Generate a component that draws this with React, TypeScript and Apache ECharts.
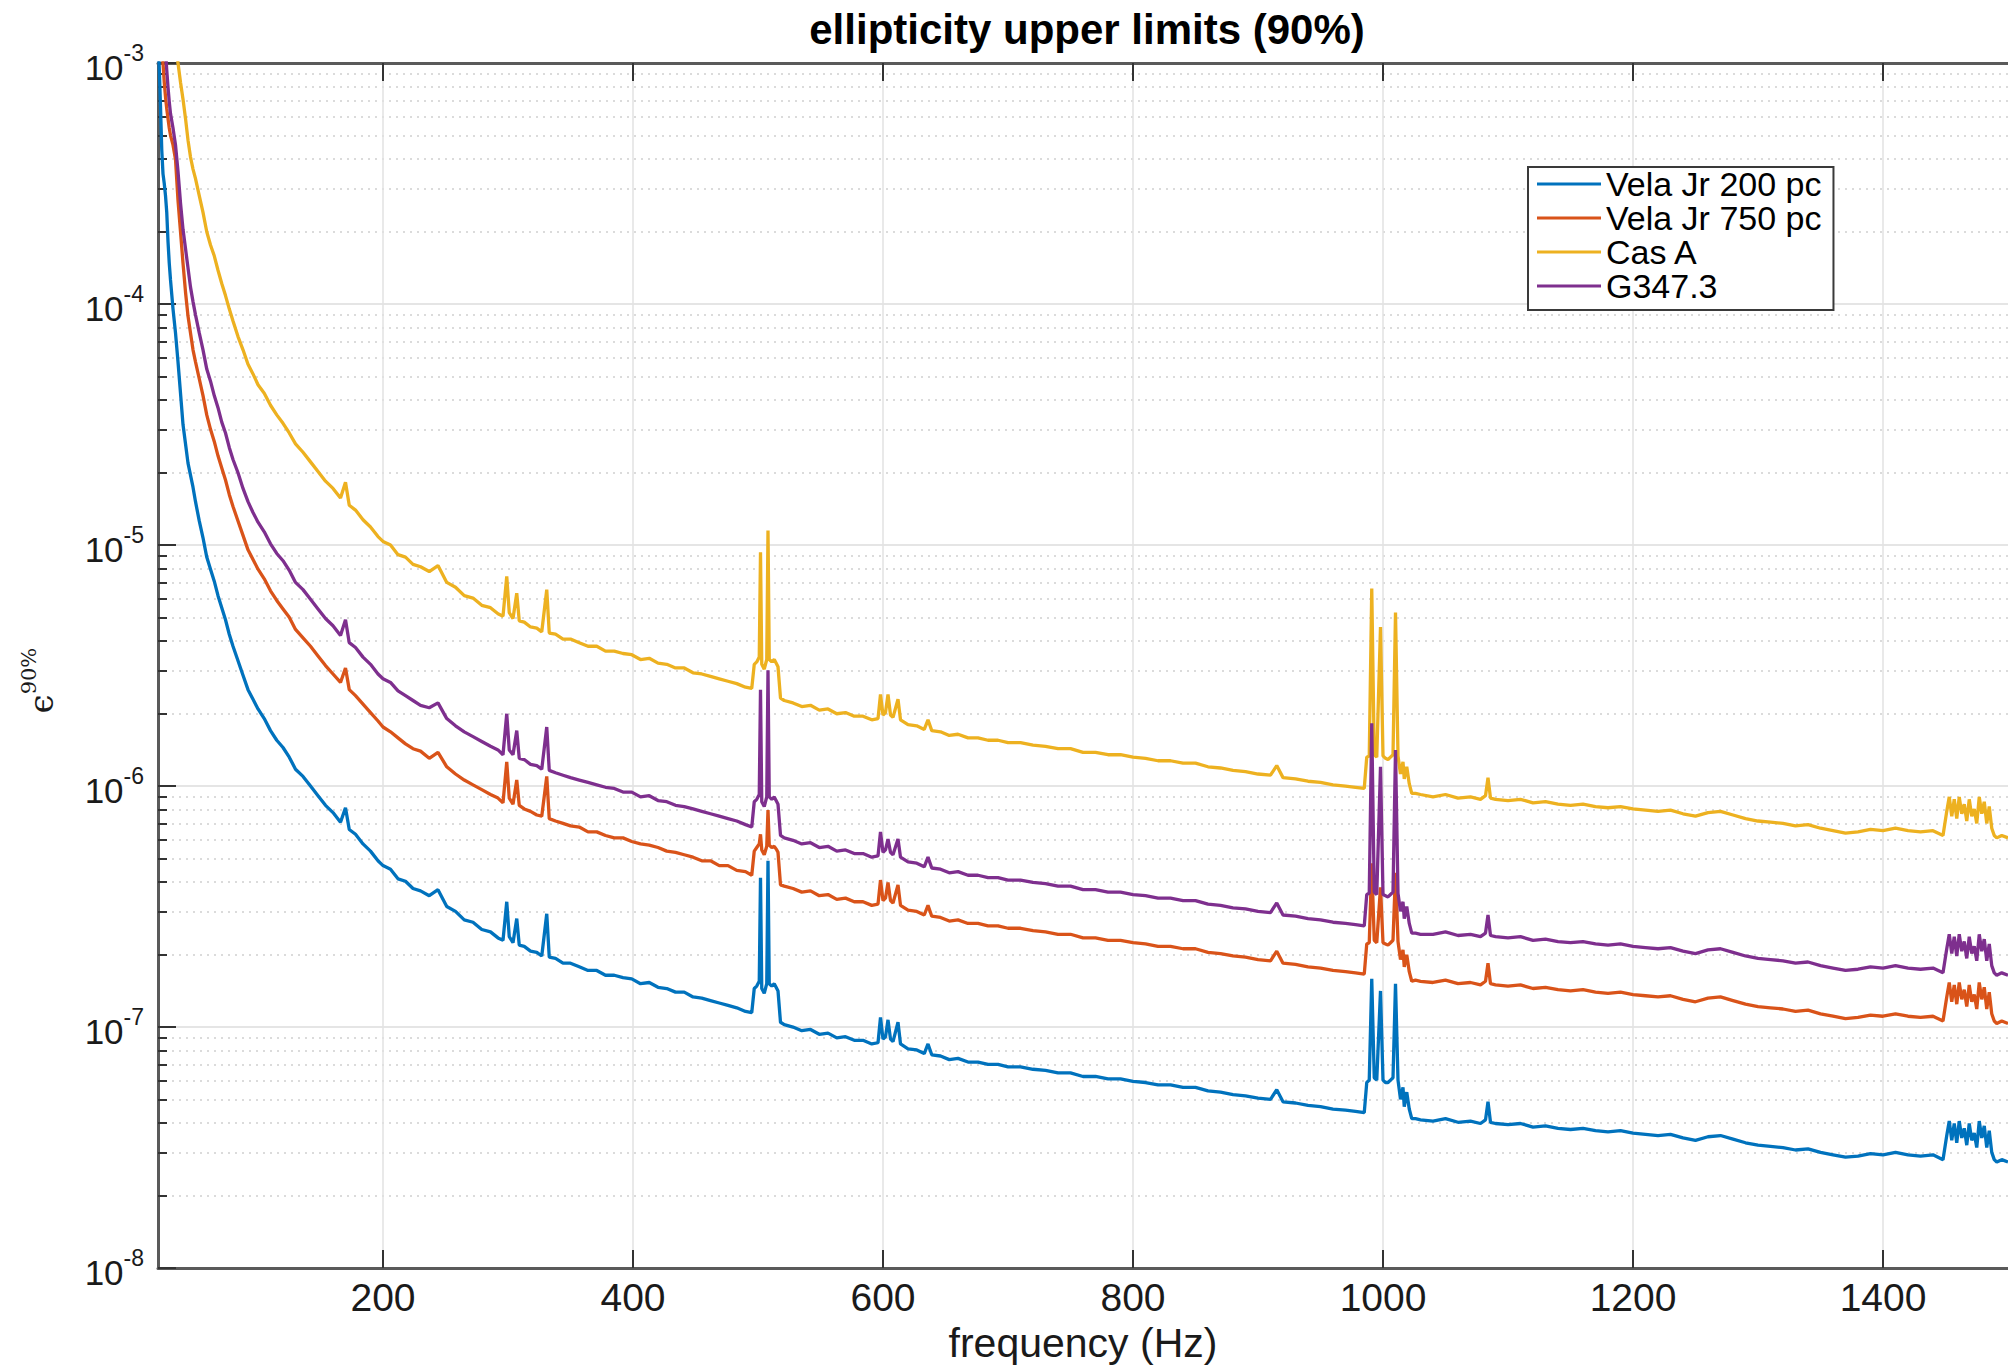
import React, { useEffect, useRef } from "react";
import * as echarts from "echarts";

const freqHz = [
  // 20-196
  20, 21, 22, 23, 24, 25, 26, 27, 28, 29, 30,
  32, 34, 36, 38, 40, 42, 44, 46, 48, 50,
  53, 56, 59, 62, 65, 68, 71, 74, 77, 80,
  84, 88, 92, 96, 100,
  105, 110, 115, 120, 125, 130,
  136, 142, 148, 154, 160, 166,
  170, 173, 178, 184, 190, 196,
  // 200-495
  200, 206, 212, 218, 224, 230, 237, 244, 251, 258,
  265, 272, 279, 286, 292, 296, 299, 301, 304, 307,
  309, 313, 318, 323, 327, 331, 333, 338, 344, 350,
  357, 364, 371, 378, 385, 392, 399, 406, 413, 420,
  427, 434, 441, 448, 455, 462, 469, 476, 483, 490,
  495,
  // 500 Hz lines
  497, 499, 501, 502, 503, 505, 507, 508, 509, 511, 513, 515, 516, 518, 521,
  // 528-985
  528, 535, 542, 549, 556, 563, 570, 577, 584, 591,
  596, 598, 600, 602, 604, 606, 608, 612, 614, 620,
  627, 633, 636, 639, 646, 653, 660, 668, 676, 684,
  692, 700, 710, 720, 730, 740, 750, 760, 770, 780,
  790, 800, 810, 820, 830, 840, 850, 860, 870, 880,
  890, 900, 910, 915, 920, 930, 940, 950, 960, 970,
  978, 985,
  // 1000 Hz lines
  987, 989, 991, 993, 995, 998, 1000, 1002, 1004, 1006,
  1008, 1010, 1012, 1014, 1016, 1017, 1019, 1021, 1023, 1026,
  1030,
  // 1040-1448
  1040, 1050, 1060, 1070, 1078, 1082, 1084, 1086, 1090, 1100,
  1110, 1120, 1130, 1140, 1150, 1160, 1170, 1180, 1190, 1200,
  1210, 1220, 1230, 1240, 1250, 1260, 1270, 1280, 1290, 1300,
  1310, 1320, 1330, 1340, 1350, 1360, 1370, 1380, 1390, 1400,
  1410, 1420, 1430, 1440, 1448,
  // 1450-1500 cluster
  1451, 1453, 1455, 1457, 1459, 1461, 1463, 1465, 1467, 1469,
  1471, 1473, 1475, 1477, 1479, 1481, 1483, 1485, 1487, 1489,
  1491, 1495, 1500,
];

// Values are read as decades (log10 of epsilon) from the log axis
const velaJr200Log = [
  -2.9, -3.02, -3.18, -3.36, -3.46, -3.5, -3.55, -3.62, -3.74, -3.83, -3.9,
  -4.02, -4.12, -4.24, -4.37, -4.5, -4.58, -4.66, -4.71, -4.76, -4.82,
  -4.9, -4.97, -5.05, -5.1, -5.15, -5.21, -5.26, -5.31, -5.37, -5.42,
  -5.48, -5.54, -5.6, -5.64, -5.68,
  -5.72, -5.77, -5.81, -5.84, -5.88, -5.93,
  -5.96, -6.0, -6.04, -6.08, -6.11, -6.15,
  -6.09, -6.18, -6.2, -6.24, -6.27, -6.31,
  -6.33, -6.345, -6.385, -6.395, -6.425, -6.435, -6.455, -6.43, -6.5, -6.52,
  -6.555, -6.565, -6.595, -6.605, -6.63, -6.64, -6.48, -6.625, -6.65, -6.55,
  -6.66, -6.665, -6.685, -6.69, -6.705, -6.53, -6.71, -6.715, -6.735, -6.735,
  -6.75, -6.765, -6.765, -6.785, -6.785, -6.795, -6.8, -6.82, -6.815, -6.835,
  -6.84, -6.855, -6.855, -6.875, -6.88, -6.89, -6.9, -6.91, -6.92, -6.935,
  -6.94,
  -6.84, -6.83, -6.81, -6.38, -6.84, -6.86, -6.82, -6.31, -6.82, -6.83, -6.82, -6.84, -6.85, -6.98, -6.99,
  -7.0, -7.015, -7.01, -7.03, -7.025, -7.045, -7.04, -7.055, -7.055, -7.07,
  -7.065, -6.96, -7.05, -7.04, -6.97, -7.05, -7.06, -6.98, -7.07, -7.09,
  -7.095, -7.11, -7.07, -7.115, -7.12, -7.135, -7.13, -7.145, -7.145, -7.155,
  -7.155, -7.165, -7.165, -7.175, -7.18, -7.19, -7.19, -7.205, -7.205, -7.215,
  -7.215, -7.225, -7.23, -7.24, -7.24, -7.25, -7.25, -7.265, -7.27, -7.28,
  -7.285, -7.295, -7.3, -7.26, -7.31, -7.315, -7.325, -7.33, -7.34, -7.345,
  -7.35, -7.355,
  -7.23, -7.22, -6.8, -7.21, -7.22, -6.85, -7.22, -7.23, -7.23, -7.22,
  -7.21, -6.82, -7.22, -7.3, -7.25, -7.33, -7.27, -7.34, -7.38, -7.38,
  -7.385,
  -7.39, -7.38, -7.395, -7.39, -7.4, -7.385, -7.31, -7.395, -7.4, -7.405,
  -7.4, -7.415, -7.41, -7.42, -7.425, -7.42, -7.43, -7.435, -7.43, -7.44,
  -7.445, -7.45, -7.445, -7.46, -7.47, -7.455, -7.45, -7.465, -7.48, -7.49,
  -7.495, -7.5, -7.51, -7.505, -7.52, -7.53, -7.54, -7.535, -7.525, -7.53,
  -7.52, -7.53, -7.535, -7.53, -7.55,
  -7.45, -7.39, -7.47, -7.4, -7.48, -7.39, -7.46, -7.42, -7.49, -7.4,
  -7.47, -7.44, -7.5, -7.39, -7.46, -7.41, -7.5, -7.43, -7.52, -7.55,
  -7.56, -7.55, -7.56,
];

const velaJr750Log = [
  -2.6, -2.7, -2.8, -2.9, -3.0, -3.08, -3.14, -3.19, -3.23, -3.27, -3.3,
  -3.34, -3.4, -3.57, -3.7, -3.83, -3.95, -4.05, -4.12, -4.19, -4.24,
  -4.31, -4.38, -4.46, -4.52, -4.57, -4.63, -4.68, -4.73, -4.79, -4.84,
  -4.9, -4.96, -5.02, -5.06, -5.1,
  -5.14, -5.19, -5.23, -5.265, -5.3, -5.35,
  -5.385, -5.42, -5.46, -5.5, -5.535, -5.57,
  -5.51, -5.6, -5.625, -5.66, -5.695, -5.73,
  -5.755, -5.775, -5.8, -5.825, -5.845, -5.855, -5.885, -5.86, -5.92, -5.95,
  -5.975, -5.995, -6.015, -6.035, -6.05, -6.07, -5.9, -6.05, -6.075, -5.975,
  -6.08, -6.095, -6.105, -6.12, -6.125, -5.96, -6.135, -6.145, -6.155, -6.165,
  -6.17, -6.19, -6.19, -6.205, -6.215, -6.215, -6.23, -6.24, -6.245, -6.255,
  -6.27, -6.275, -6.285, -6.295, -6.31, -6.31, -6.33, -6.33, -6.35, -6.355,
  -6.37,
  -6.27, -6.255, -6.24, -6.2, -6.265, -6.285, -6.25, -6.1, -6.245, -6.255, -6.25, -6.265, -6.275, -6.41, -6.415,
  -6.425, -6.44, -6.435, -6.455, -6.45, -6.47, -6.465, -6.48, -6.48, -6.495,
  -6.49, -6.39, -6.475, -6.465, -6.4, -6.475, -6.485, -6.41, -6.495, -6.515,
  -6.52, -6.535, -6.495, -6.54, -6.545, -6.56, -6.555, -6.57, -6.57, -6.58,
  -6.58, -6.59, -6.59, -6.6, -6.605, -6.615, -6.615, -6.63, -6.63, -6.64,
  -6.64, -6.65, -6.655, -6.665, -6.665, -6.675, -6.675, -6.69, -6.695, -6.705,
  -6.71, -6.72, -6.725, -6.685, -6.735, -6.74, -6.75, -6.755, -6.765, -6.77,
  -6.775, -6.78,
  -6.655, -6.65, -6.32, -6.64, -6.65, -6.42, -6.65, -6.655, -6.66, -6.65,
  -6.64, -6.36, -6.645, -6.72, -6.68, -6.75, -6.7, -6.77, -6.81, -6.805,
  -6.81,
  -6.815, -6.805, -6.82, -6.815, -6.825, -6.81, -6.735, -6.82, -6.825, -6.83,
  -6.825, -6.84, -6.835, -6.845, -6.85, -6.845, -6.855, -6.86, -6.855, -6.865,
  -6.87, -6.875, -6.87, -6.885, -6.895, -6.88, -6.875, -6.89, -6.905, -6.915,
  -6.92, -6.925, -6.935, -6.93, -6.945, -6.955, -6.965, -6.96, -6.95, -6.955,
  -6.945, -6.955, -6.96, -6.955, -6.975,
  -6.875, -6.815, -6.895, -6.825, -6.905, -6.815, -6.885, -6.845, -6.915, -6.825,
  -6.895, -6.865, -6.925, -6.815, -6.885, -6.835, -6.925, -6.855, -6.945, -6.975,
  -6.985, -6.975, -6.985,
];

const casALog = [
  -1.6, -1.7, -1.8, -1.95, -2.1, -2.2, -2.3, -2.4, -2.5, -2.6, -2.65,
  -2.75, -2.88, -3.0, -3.08, -3.15, -3.23, -3.32, -3.39, -3.44, -3.48,
  -3.55, -3.62, -3.7, -3.755, -3.8, -3.86, -3.915, -3.965, -4.02, -4.07,
  -4.135, -4.19, -4.25, -4.29, -4.335,
  -4.37, -4.42, -4.46, -4.495, -4.535, -4.58,
  -4.615, -4.655, -4.695, -4.735, -4.765, -4.805,
  -4.74, -4.835, -4.855, -4.895, -4.925, -4.965,
  -4.985, -5.0, -5.04, -5.05, -5.08, -5.09, -5.11, -5.085, -5.155, -5.175,
  -5.21, -5.22, -5.25, -5.26, -5.285, -5.295, -5.13, -5.28, -5.305, -5.2,
  -5.315, -5.32, -5.34, -5.345, -5.36, -5.185, -5.365, -5.37, -5.39, -5.39,
  -5.405, -5.42, -5.42, -5.44, -5.44, -5.45, -5.455, -5.475, -5.47, -5.49,
  -5.495, -5.51, -5.51, -5.53, -5.535, -5.545, -5.555, -5.565, -5.575, -5.59,
  -5.595,
  -5.495, -5.485, -5.465, -5.03, -5.495, -5.515, -5.475, -4.94, -5.475, -5.485, -5.475, -5.495, -5.505, -5.635, -5.645,
  -5.655, -5.67, -5.665, -5.685, -5.68, -5.7, -5.695, -5.71, -5.71, -5.725,
  -5.72, -5.62, -5.705, -5.695, -5.62, -5.705, -5.715, -5.64, -5.725, -5.745,
  -5.75, -5.765, -5.725, -5.77, -5.775, -5.79, -5.785, -5.8, -5.8, -5.81,
  -5.81, -5.82, -5.82, -5.83, -5.835, -5.845, -5.845, -5.86, -5.86, -5.87,
  -5.87, -5.88, -5.885, -5.895, -5.895, -5.905, -5.905, -5.92, -5.925, -5.935,
  -5.94, -5.95, -5.955, -5.915, -5.965, -5.97, -5.98, -5.985, -5.995, -6.0,
  -6.005, -6.01,
  -5.88, -5.875, -5.18, -5.87, -5.88, -5.34, -5.875, -5.885, -5.89, -5.88,
  -5.87, -5.28, -5.875, -5.95, -5.9, -5.97, -5.92, -5.99, -6.03, -6.03,
  -6.035,
  -6.045, -6.035, -6.05, -6.045, -6.055, -6.04, -5.965, -6.05, -6.055, -6.06,
  -6.055, -6.07, -6.065, -6.075, -6.08, -6.075, -6.085, -6.09, -6.085, -6.095,
  -6.1, -6.105, -6.1, -6.115, -6.125, -6.11, -6.105, -6.12, -6.135, -6.145,
  -6.15, -6.155, -6.165, -6.16, -6.175, -6.185, -6.195, -6.19, -6.18, -6.185,
  -6.175, -6.185, -6.19, -6.185, -6.205,
  -6.105, -6.045, -6.125, -6.055, -6.135, -6.045, -6.115, -6.075, -6.145, -6.055,
  -6.125, -6.095, -6.155, -6.045, -6.115, -6.065, -6.155, -6.085, -6.175, -6.205,
  -6.215, -6.205, -6.215,
];

const g347Log = [
  -2.4, -2.5, -2.6, -2.7, -2.78, -2.86, -2.95, -3.03, -3.1, -3.16, -3.21,
  -3.27, -3.34, -3.45, -3.58, -3.69, -3.77, -3.85, -3.93, -3.99, -4.045,
  -4.12, -4.19, -4.27, -4.32, -4.38, -4.43, -4.49, -4.535, -4.595, -4.645,
  -4.7, -4.765, -4.82, -4.865, -4.905,
  -4.945, -4.995, -5.035, -5.065, -5.105, -5.155,
  -5.185, -5.225, -5.265, -5.305, -5.335, -5.375,
  -5.31, -5.405, -5.425, -5.465, -5.495, -5.535,
  -5.555, -5.57, -5.605, -5.625, -5.645, -5.665, -5.675, -5.655, -5.72, -5.75,
  -5.775, -5.795, -5.815, -5.835, -5.85, -5.87, -5.7, -5.85, -5.87, -5.77,
  -5.885, -5.89, -5.91, -5.915, -5.93, -5.755, -5.935, -5.945, -5.955, -5.965,
  -5.975, -5.985, -5.995, -6.005, -6.01, -6.025, -6.025, -6.045, -6.04, -6.06,
  -6.065, -6.08, -6.085, -6.095, -6.105, -6.115, -6.125, -6.135, -6.145, -6.16,
  -6.17,
  -6.065, -6.055, -6.035, -5.6, -6.065, -6.085, -6.045, -5.52, -6.045, -6.055, -6.045, -6.065, -6.075, -6.205, -6.215,
  -6.225, -6.24, -6.235, -6.255, -6.25, -6.27, -6.265, -6.28, -6.28, -6.295,
  -6.29, -6.19, -6.275, -6.265, -6.22, -6.275, -6.285, -6.22, -6.295, -6.315,
  -6.32, -6.335, -6.295, -6.34, -6.345, -6.36, -6.355, -6.37, -6.37, -6.38,
  -6.38, -6.39, -6.39, -6.4, -6.405, -6.415, -6.415, -6.43, -6.43, -6.44,
  -6.44, -6.45, -6.455, -6.465, -6.465, -6.475, -6.475, -6.49, -6.495, -6.505,
  -6.51, -6.52, -6.525, -6.485, -6.535, -6.54, -6.55, -6.555, -6.565, -6.57,
  -6.575, -6.58,
  -6.45, -6.445, -5.74, -6.44, -6.45, -5.92, -6.45, -6.455, -6.46, -6.45,
  -6.44, -5.85, -6.445, -6.52, -6.48, -6.55, -6.5, -6.57, -6.61, -6.61,
  -6.615,
  -6.615, -6.605, -6.62, -6.615, -6.625, -6.61, -6.535, -6.62, -6.625, -6.63,
  -6.625, -6.64, -6.635, -6.645, -6.65, -6.645, -6.655, -6.66, -6.655, -6.665,
  -6.67, -6.675, -6.67, -6.685, -6.695, -6.68, -6.675, -6.69, -6.705, -6.715,
  -6.72, -6.725, -6.735, -6.73, -6.745, -6.755, -6.765, -6.76, -6.75, -6.755,
  -6.745, -6.755, -6.76, -6.755, -6.775,
  -6.675, -6.615, -6.695, -6.625, -6.705, -6.615, -6.685, -6.645, -6.715, -6.625,
  -6.695, -6.665, -6.725, -6.615, -6.685, -6.635, -6.725, -6.655, -6.745, -6.775,
  -6.785, -6.775, -6.785,
];

const seriesNames = ["Vela Jr 200 pc", "Vela Jr 750 pc", "Cas A", "G347.3"];
const seriesColors = ["#0072BD", "#D95319", "#EDB120", "#7E2F8E"];
const seriesLogs = [velaJr200Log, velaJr750Log, casALog, g347Log];

const xTickValues = [200, 400, 600, 800, 1000, 1200, 1400];
const yDecades = [1e-8, 1e-7, 1e-6, 1e-5, 1e-4];
const minorMultipliers = [2, 3, 4, 5, 6, 7, 8, 9];
const yMinorValues = yDecades.flatMap((d) => minorMultipliers.map((m) => m * d));

const FONT = "'Liberation Sans', Arial, Helvetica, sans-serif";
const AXIS_COLOR = "#5a5a5a";
const TEXT_COLOR = "#1a1a1a";

export default function App() {
  const ref = useRef<HTMLDivElement>(null);

  useEffect(() => {
    if (!ref.current) return;
    const chart = echarts.init(ref.current, null, { renderer: "svg" });

    const series = seriesNames.map((name, k) => ({
      name,
      type: "line",
      data: freqHz.map((f, i) => [f, Math.pow(10, seriesLogs[k][i])]),
      showSymbol: false,
      symbol: "none",
      clip: true,
      lineStyle: { width: 3.3, color: seriesColors[k] },
      itemStyle: { color: seriesColors[k] },
      emphasis: { disabled: true },
    }));

    const option: any = {
      animation: false,
      backgroundColor: "#ffffff",
      textStyle: { fontFamily: FONT },
      title: {
        text: "ellipticity upper limits (90%)",
        left: 1087,
        top: 8,
        padding: 0,
        textAlign: "center",
        textStyle: { fontSize: 42, fontWeight: "bold", color: "#000", fontFamily: FONT },
      },
      legend: {
        data: seriesNames,
        orient: "vertical",
        left: 1528,
        top: 167,
        icon: "rect",
        itemWidth: 64,
        itemHeight: 3,
        itemGap: 0,
        padding: [0, 12, 7, 9],
        borderColor: "#3a3a3a",
        borderWidth: 2,
        backgroundColor: "#ffffff",
        textStyle: { fontSize: 34, lineHeight: 34, color: "#000", fontFamily: FONT },
      },
      grid: { left: 158, top: 63, right: -13, bottom: 93, containLabel: false },
      xAxis: [
        {
          type: "value",
          min: 20,
          max: 1500,
          position: "bottom",
          name: "frequency (Hz)",
          nameLocation: "middle",
          nameGap: 50,
          nameTextStyle: { fontSize: 41, color: TEXT_COLOR, fontFamily: FONT },
          axisLine: { show: true, onZero: false, lineStyle: { color: AXIS_COLOR, width: 3 } },
          axisTick: {
            show: true,
            inside: true,
            length: 18,
            customValues: xTickValues,
            lineStyle: { color: "#333", width: 2 },
          },
          axisLabel: {
            customValues: xTickValues,
            formatter: (v: number) => String(v),
            fontSize: 39,
            color: TEXT_COLOR,
            margin: 10,
            fontFamily: FONT,
          },
          splitLine: { show: true, lineStyle: { color: "#e2e2e2", width: 1.5 } },
        },
        {
          type: "value",
          min: 20,
          max: 1500,
          position: "top",
          axisLine: { show: true, onZero: false, lineStyle: { color: AXIS_COLOR, width: 3 } },
          axisTick: {
            show: true,
            inside: true,
            length: 18,
            customValues: xTickValues,
            lineStyle: { color: "#333", width: 2 },
          },
          axisLabel: { show: false },
          splitLine: { show: false },
        },
      ],
      yAxis: [
        {
          type: "log",
          logBase: 10,
          min: 1e-8,
          max: 1e-3,
          position: "left",
          name: "{e|ϵ}{s|90%}",
          nameLocation: "middle",
          nameRotate: 90,
          nameGap: 100,
          nameTextStyle: {
            padding: [0, 30, 0, 0],
            rich: {
              e: { fontSize: 34, lineHeight: 40, verticalAlign: "bottom", fontFamily: "'DejaVu Serif', serif", color: TEXT_COLOR },
              s: { fontSize: 21, lineHeight: 22, verticalAlign: "top", fontFamily: "'DejaVu Serif', serif", color: TEXT_COLOR },
            },
          },
          axisLine: { show: true, onZero: false, lineStyle: { color: AXIS_COLOR, width: 3 } },
          axisTick: { show: true, inside: true, length: 18, lineStyle: { color: "#333", width: 2 } },
          axisLabel: {
            margin: 14,
            formatter: (v: number) => `{b|10}{s|${Math.round(Math.log10(v))}}`,
            rich: {
              b: { fontSize: 35, lineHeight: 44, verticalAlign: "bottom", color: TEXT_COLOR, fontFamily: FONT },
              s: { fontSize: 23, lineHeight: 23, verticalAlign: "top", color: TEXT_COLOR, fontFamily: FONT },
            },
          },
          splitLine: { show: true, lineStyle: { color: "#dcdcdc", width: 1.5 } },
        },
        {
          type: "log",
          logBase: 10,
          min: 1e-8,
          max: 1e-3,
          position: "left",
          axisLine: { show: false, onZero: false },
          axisTick: {
            show: true,
            inside: true,
            length: 9,
            customValues: yMinorValues,
            lineStyle: { color: "#333", width: 2 },
          },
          axisLabel: { show: false },
          splitLine: { show: true, lineStyle: { color: "#cfcfcf", width: 1.5, type: [2, 5] } },
        },
      ],
      series,
    };

    chart.setOption(option);
    return () => chart.dispose();
  }, []);

  return (
    <div
      ref={ref}
      style={{ position: "fixed", left: 0, top: 0, width: 2008, height: 1368, background: "#fff" }}
    />
  );
}
